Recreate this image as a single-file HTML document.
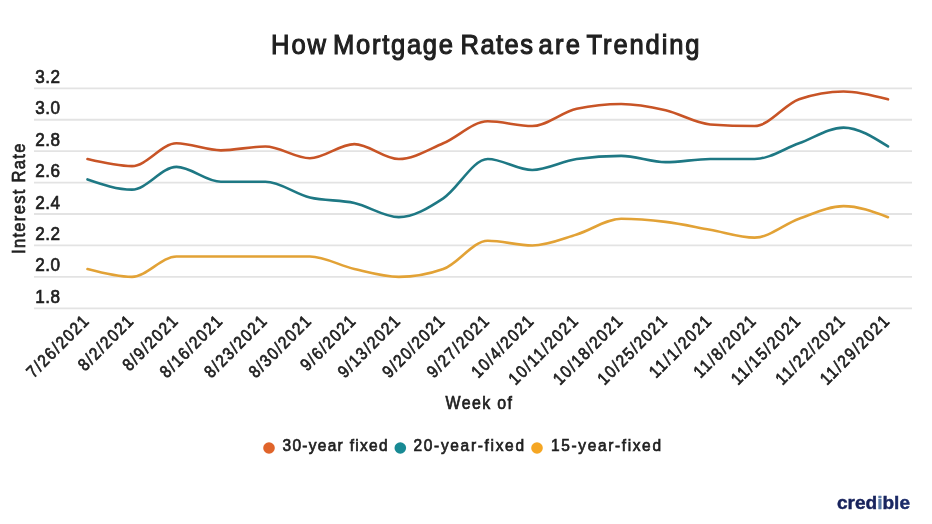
<!DOCTYPE html>
<html><head><meta charset="utf-8"><style>
html,body{margin:0;padding:0;background:#fff;width:932px;height:524px;overflow:hidden}
svg{position:absolute;left:0;top:0;filter:blur(0.35px)}
text{font-family:"Liberation Sans",sans-serif}
.t text{fill:#202020;stroke:#202020;stroke-width:0.7px}
</style></head><body>
<svg width="932" height="524" viewBox="0 0 932 524">
<rect width="932" height="524" fill="#ffffff"/>
<line x1="34" x2="912" y1="88.30" y2="88.30" stroke="#e3e3e3" stroke-width="1.8"/>
<line x1="34" x2="912" y1="119.73" y2="119.73" stroke="#e3e3e3" stroke-width="1.8"/>
<line x1="34" x2="912" y1="151.16" y2="151.16" stroke="#e3e3e3" stroke-width="1.8"/>
<line x1="34" x2="912" y1="182.59" y2="182.59" stroke="#e3e3e3" stroke-width="1.8"/>
<line x1="34" x2="912" y1="214.02" y2="214.02" stroke="#e3e3e3" stroke-width="1.8"/>
<line x1="34" x2="912" y1="245.45" y2="245.45" stroke="#e3e3e3" stroke-width="1.8"/>
<line x1="34" x2="912" y1="276.88" y2="276.88" stroke="#e3e3e3" stroke-width="1.8"/>
<line x1="34" x2="912" y1="308.31" y2="308.31" stroke="#e3e3e3" stroke-width="1.8"/>
<g class="t">
<text transform="translate(271.00,54) scale(0.92,1)" font-size="27.8" style="stroke-width:1.1px" textLength="59.78" lengthAdjust="spacing">How</text><text transform="translate(333.00,54) scale(0.92,1)" font-size="27.8" style="stroke-width:1.1px" textLength="130.43" lengthAdjust="spacing">Mortgage</text><text transform="translate(460.50,54) scale(0.92,1)" font-size="27.8" style="stroke-width:1.1px" textLength="78.80" lengthAdjust="spacing">Rates</text><text transform="translate(538.50,54) scale(0.92,1)" font-size="27.8" style="stroke-width:1.1px" textLength="45.11" lengthAdjust="spacing">are</text><text transform="translate(586.50,54) scale(0.92,1)" font-size="27.8" style="stroke-width:1.1px" textLength="122.83" lengthAdjust="spacing">Trending</text>
<text transform="translate(35.20,82.80) scale(0.9,1)" font-size="19" textLength="27.56" lengthAdjust="spacing">3.2</text>
<text transform="translate(35.20,114.23) scale(0.9,1)" font-size="19" textLength="27.56" lengthAdjust="spacing">3.0</text>
<text transform="translate(35.20,145.66) scale(0.9,1)" font-size="19" textLength="27.56" lengthAdjust="spacing">2.8</text>
<text transform="translate(35.20,177.09) scale(0.9,1)" font-size="19" textLength="27.56" lengthAdjust="spacing">2.6</text>
<text transform="translate(35.20,208.52) scale(0.9,1)" font-size="19" textLength="27.56" lengthAdjust="spacing">2.4</text>
<text transform="translate(35.20,239.95) scale(0.9,1)" font-size="19" textLength="27.56" lengthAdjust="spacing">2.2</text>
<text transform="translate(35.20,271.38) scale(0.9,1)" font-size="19" textLength="27.56" lengthAdjust="spacing">2.0</text>
<text transform="translate(35.20,302.81) scale(0.9,1)" font-size="19" textLength="27.56" lengthAdjust="spacing">1.8</text>
<text transform="translate(89.70,322.50) rotate(-45) scale(0.88,1)" text-anchor="end" font-size="17.2" textLength="90.45" lengthAdjust="spacing">7/26/2021</text>
<text transform="translate(134.17,322.50) rotate(-45) scale(0.88,1)" text-anchor="end" font-size="17.2" textLength="79.14" lengthAdjust="spacing">8/2/2021</text>
<text transform="translate(178.64,322.50) rotate(-45) scale(0.88,1)" text-anchor="end" font-size="17.2" textLength="79.14" lengthAdjust="spacing">8/9/2021</text>
<text transform="translate(223.12,322.50) rotate(-45) scale(0.88,1)" text-anchor="end" font-size="17.2" textLength="90.45" lengthAdjust="spacing">8/16/2021</text>
<text transform="translate(267.59,322.50) rotate(-45) scale(0.88,1)" text-anchor="end" font-size="17.2" textLength="90.45" lengthAdjust="spacing">8/23/2021</text>
<text transform="translate(312.06,322.50) rotate(-45) scale(0.88,1)" text-anchor="end" font-size="17.2" textLength="90.45" lengthAdjust="spacing">8/30/2021</text>
<text transform="translate(356.53,322.50) rotate(-45) scale(0.88,1)" text-anchor="end" font-size="17.2" textLength="79.14" lengthAdjust="spacing">9/6/2021</text>
<text transform="translate(401.01,322.50) rotate(-45) scale(0.88,1)" text-anchor="end" font-size="17.2" textLength="90.45" lengthAdjust="spacing">9/13/2021</text>
<text transform="translate(445.48,322.50) rotate(-45) scale(0.88,1)" text-anchor="end" font-size="17.2" textLength="90.45" lengthAdjust="spacing">9/20/2021</text>
<text transform="translate(489.95,322.50) rotate(-45) scale(0.88,1)" text-anchor="end" font-size="17.2" textLength="90.45" lengthAdjust="spacing">9/27/2021</text>
<text transform="translate(534.42,322.50) rotate(-45) scale(0.88,1)" text-anchor="end" font-size="17.2" textLength="90.45" lengthAdjust="spacing">10/4/2021</text>
<text transform="translate(578.89,322.50) rotate(-45) scale(0.88,1)" text-anchor="end" font-size="17.2" textLength="101.75" lengthAdjust="spacing">10/11/2021</text>
<text transform="translate(623.37,322.50) rotate(-45) scale(0.88,1)" text-anchor="end" font-size="17.2" textLength="101.75" lengthAdjust="spacing">10/18/2021</text>
<text transform="translate(667.84,322.50) rotate(-45) scale(0.88,1)" text-anchor="end" font-size="17.2" textLength="101.75" lengthAdjust="spacing">10/25/2021</text>
<text transform="translate(712.31,322.50) rotate(-45) scale(0.88,1)" text-anchor="end" font-size="17.2" textLength="90.45" lengthAdjust="spacing">11/1/2021</text>
<text transform="translate(756.78,322.50) rotate(-45) scale(0.88,1)" text-anchor="end" font-size="17.2" textLength="90.45" lengthAdjust="spacing">11/8/2021</text>
<text transform="translate(801.26,322.50) rotate(-45) scale(0.88,1)" text-anchor="end" font-size="17.2" textLength="101.75" lengthAdjust="spacing">11/15/2021</text>
<text transform="translate(845.73,322.50) rotate(-45) scale(0.88,1)" text-anchor="end" font-size="17.2" textLength="101.75" lengthAdjust="spacing">11/22/2021</text>
<text transform="translate(890.20,322.50) rotate(-45) scale(0.88,1)" text-anchor="end" font-size="17.2" textLength="101.75" lengthAdjust="spacing">11/29/2021</text>

<text transform="translate(25.20,254.00) rotate(-90) scale(0.9,1)" font-size="18.5" textLength="122.78" lengthAdjust="spacing">Interest Rate</text>
<text transform="translate(445.50,409.00) scale(0.9,1)" font-size="17.7" textLength="73.89" lengthAdjust="spacing">Week of</text>
<text transform="translate(282.50,451.10) scale(0.9,1)" font-size="17.2" textLength="116.67" lengthAdjust="spacing">30-year fixed</text>
<text transform="translate(413.50,451.10) scale(0.9,1)" font-size="17.2" textLength="122.78" lengthAdjust="spacing">20-year-fixed</text>
<text transform="translate(551.00,451.10) scale(0.9,1)" font-size="17.2" textLength="122.22" lengthAdjust="spacing">15-year-fixed</text>
</g>
<path d="M87.50,269.02 C102.32,272.95 117.15,276.88 131.97,276.88 C146.80,276.88 161.62,256.45 176.44,256.45 C191.27,256.45 206.09,256.45 220.92,256.45 C235.74,256.45 250.56,256.45 265.39,256.45 C280.21,256.45 295.04,256.45 309.86,256.45 C324.69,256.45 339.51,265.62 354.33,269.02 C369.16,272.43 383.98,276.88 398.81,276.88 C413.63,276.88 428.45,274.26 443.28,269.02 C458.10,263.78 472.93,240.74 487.75,240.74 C502.57,240.74 517.40,245.45 532.22,245.45 C547.05,245.45 561.87,238.90 576.69,234.45 C591.52,230.00 606.34,218.73 621.17,218.73 C635.99,218.73 650.81,220.04 665.64,221.88 C680.46,223.71 695.29,227.12 710.11,229.74 C724.94,232.35 739.76,237.59 754.58,237.59 C769.41,237.59 784.23,223.97 799.06,218.73 C813.88,213.50 828.70,206.16 843.53,206.16 C858.35,206.16 873.18,211.66 888.00,217.16" fill="none" stroke="#e2a236" stroke-width="2.6" stroke-linecap="round"/>
<path d="M87.50,179.45 C102.32,184.55 117.15,189.66 131.97,189.66 C146.80,189.66 161.62,166.88 176.44,166.88 C191.27,166.88 206.09,181.80 220.92,181.80 C235.74,181.80 250.56,181.80 265.39,181.80 C280.21,181.80 295.04,193.98 309.86,197.52 C324.69,201.06 339.51,199.75 354.33,203.02 C369.16,206.29 383.98,217.16 398.81,217.16 C413.63,217.16 428.45,208.00 443.28,198.31 C458.10,188.61 472.93,159.02 487.75,159.02 C502.57,159.02 517.40,170.02 532.22,170.02 C547.05,170.02 561.87,161.11 576.69,159.02 C591.52,156.92 606.34,155.87 621.17,155.87 C635.99,155.87 650.81,162.16 665.64,162.16 C680.46,162.16 695.29,159.02 710.11,159.02 C724.94,159.02 739.76,159.02 754.58,159.02 C769.41,159.02 784.23,148.54 799.06,143.30 C813.88,138.06 828.70,127.59 843.53,127.59 C858.35,127.59 873.18,137.02 888.00,146.45" fill="none" stroke="#1e7884" stroke-width="2.6" stroke-linecap="round"/>
<path d="M87.50,159.02 C102.32,162.55 117.15,166.09 131.97,166.09 C146.80,166.09 161.62,143.30 176.44,143.30 C191.27,143.30 206.09,150.37 220.92,150.37 C235.74,150.37 250.56,146.45 265.39,146.45 C280.21,146.45 295.04,158.23 309.86,158.23 C324.69,158.23 339.51,144.09 354.33,144.09 C369.16,144.09 383.98,159.02 398.81,159.02 C413.63,159.02 428.45,149.59 443.28,143.30 C458.10,137.02 472.93,121.30 487.75,121.30 C502.57,121.30 517.40,126.02 532.22,126.02 C547.05,126.02 561.87,111.87 576.69,108.73 C591.52,105.59 606.34,104.02 621.17,104.02 C635.99,104.02 650.81,106.90 665.64,110.30 C680.46,113.71 695.29,123.40 710.11,124.44 C724.94,125.49 739.76,126.02 754.58,126.02 C769.41,126.02 784.23,104.54 799.06,99.30 C813.88,94.06 828.70,91.44 843.53,91.44 C858.35,91.44 873.18,95.37 888.00,99.30" fill="none" stroke="#c85426" stroke-width="2.6" stroke-linecap="round"/>
<circle cx="269" cy="448" r="5.8" fill="#e0642a"/>
<circle cx="400.3" cy="448" r="5.8" fill="#188a94"/>
<circle cx="537" cy="448" r="5.8" fill="#f5a623"/>
<defs><linearGradient id="cg" gradientUnits="userSpaceOnUse" x1="0" y1="0" x2="68.3" y2="0"><stop offset="0" stop-color="#18235c"/><stop offset="0.56" stop-color="#18235c"/><stop offset="0.56" stop-color="#5877a6"/><stop offset="0.615" stop-color="#5877a6"/><stop offset="0.615" stop-color="#18235c"/><stop offset="1" stop-color="#1d2f6e"/></linearGradient></defs><text transform="translate(837,509) scale(1.07,1)" font-size="17.8" font-weight="bold" fill="url(#cg)" stroke="url(#cg)" stroke-width="0.4">credible</text>
</svg>
</body></html>
